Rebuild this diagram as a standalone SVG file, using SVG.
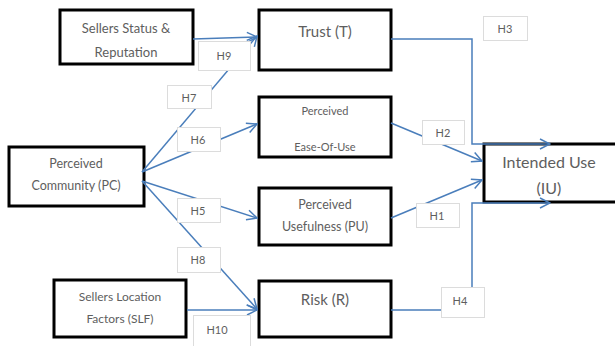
<svg xmlns="http://www.w3.org/2000/svg" width="615" height="346" viewBox="0 0 615 346">
<defs>
<marker id="arr" viewBox="0 0 12 12" refX="11" refY="6" markerWidth="12" markerHeight="12" markerUnits="userSpaceOnUse" orient="auto">
<path d="M1,1 L11,6 L1,11" fill="none" stroke="#4a7ebb" stroke-width="1.5"/>
</marker>
</defs>
<style>
.node rect{fill:#fff;stroke:#000;stroke-width:3}
.t{font-family:Lato,"Open Sans",sans-serif;fill:#5e5e5e;text-anchor:middle}
.c{fill:none;stroke:#4a7ebb;stroke-width:1.5}
.lab rect{fill:#fff;stroke:#dcdcdc;stroke-width:1}
.lab text{font-family:Lato,"Open Sans",sans-serif;fill:#5e5e5e;text-anchor:middle;font-size:11px}
</style>
<rect width="615" height="346" fill="#fff"/>
<g id="SSR" class="node"><rect x="60" y="10" width="133" height="54"/>
<text class="t" x="126" y="33" font-size="13">Sellers Status &amp;</text>
<text class="t" x="126" y="57" font-size="13">Reputation</text></g>
<g id="T" class="node"><rect x="259" y="10" width="132" height="60"/>
<text class="t" x="325" y="37" font-size="15">Trust (T)</text></g>
<g id="PEOU" class="node"><rect x="259" y="97" width="132" height="60"/>
<text class="t" x="325" y="115" font-size="11">Perceived</text>
<text class="t" x="325" y="151" font-size="11">Ease-Of-Use</text></g>
<g id="PU" class="node"><rect x="259" y="188" width="132" height="57"/>
<text class="t" x="325" y="209" font-size="12.5">Perceived</text>
<text class="t" x="325" y="231" font-size="12.5">Usefulness (PU)</text></g>
<g id="R" class="node"><rect x="259" y="281" width="132" height="56"/>
<text class="t" x="325" y="305" font-size="15">Risk (R)</text></g>
<g id="PC" class="node"><rect x="9" y="147" width="135" height="59"/>
<text class="t" x="76" y="168" font-size="12.5">Perceived</text>
<text class="t" x="76" y="190" font-size="12.5">Community (PC)</text></g>
<g id="SLF" class="node"><rect x="54" y="280" width="132" height="57"/>
<text class="t" x="120" y="301" font-size="12">Sellers Location</text>
<text class="t" x="120" y="323" font-size="12">Factors (SLF)</text></g>
<g id="IU" class="node"><rect x="484" y="144" width="134" height="58"/>
<text class="t" x="549" y="168" font-size="16">Intended Use</text>
<text class="t" x="549" y="194" font-size="16">(IU)</text></g>
<g id="connectors">
<path class="c" d="M193,39 L257,37" marker-end="url(#arr)"/>
<path class="c" d="M142,172 L257,36" marker-end="url(#arr)"/>
<path class="c" d="M142,172 L257,124" marker-end="url(#arr)"/>
<path class="c" d="M142,181 L257,218" marker-end="url(#arr)"/>
<path class="c" d="M142,181 L257,309" marker-end="url(#arr)"/>
<path class="c" d="M187,310 L257,310" marker-end="url(#arr)"/>
<path class="c" d="M391,39 L472,39 L472,144 L550,144" marker-end="url(#arr)"/>
<path class="c" d="M391,123 L482,161" marker-end="url(#arr)"/>
<path class="c" d="M391,218 L482,180" marker-end="url(#arr)"/>
<path class="c" d="M391,310 L441,310 M472,287 L472,203 L550,203" marker-end="url(#arr)"/>
</g>
<g id="labels">
<g class="lab"><rect x="198.5" y="41.5" width="52" height="29"/><text x="224" y="60">H9</text></g>
<g class="lab"><rect x="167.5" y="85.5" width="44" height="23"/><text x="189" y="102">H7</text></g>
<g class="lab"><rect x="483.5" y="16.5" width="44" height="24"/><text x="505" y="33">H3</text></g>
<g class="lab"><rect x="177.5" y="127.5" width="43" height="24"/><text x="198" y="144">H6</text></g>
<g class="lab"><rect x="177.5" y="198.5" width="43" height="24"/><text x="198" y="215">H5</text></g>
<g class="lab"><rect x="422.5" y="120.5" width="42" height="24"/><text x="443" y="137">H2</text></g>
<g class="lab"><rect x="416.5" y="203.5" width="43" height="24"/><text x="437" y="220">H1</text></g>
<g class="lab"><rect x="177.5" y="247.5" width="43" height="25"/><text x="198" y="264">H8</text></g>
<g class="lab"><rect x="193.5" y="315.5" width="57" height="35"/><text x="217" y="334">H10</text></g>
<g class="lab"><rect x="441.5" y="287.5" width="43" height="30"/><text x="460" y="305">H4</text></g>
</g>
</svg>
